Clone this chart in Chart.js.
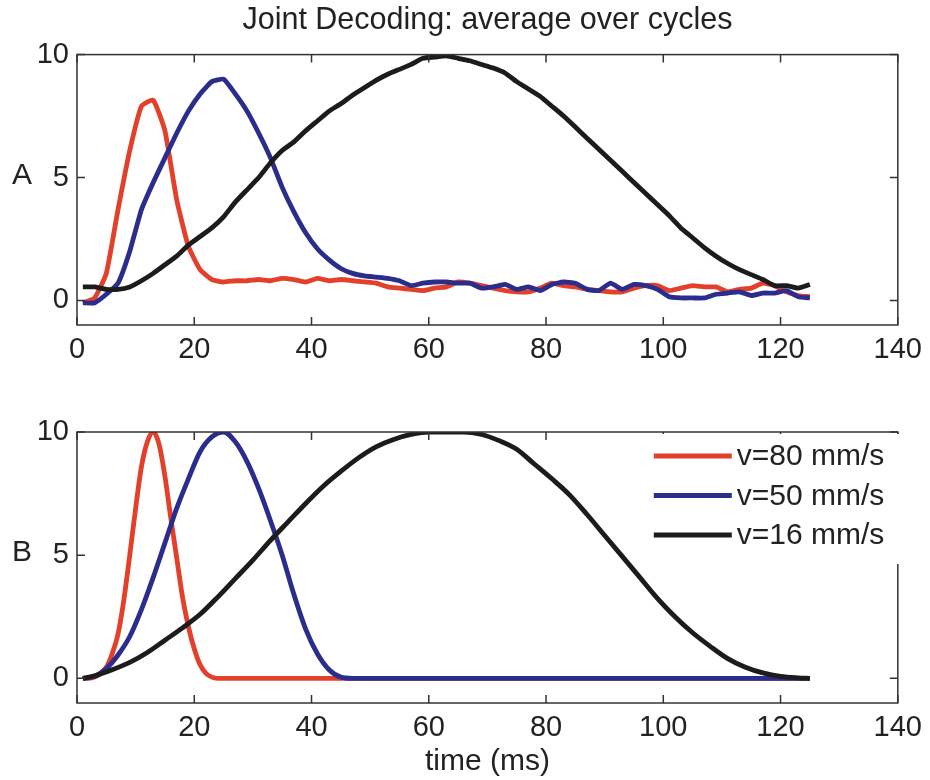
<!DOCTYPE html>
<html lang="en">
<head>
    <meta charset="UTF-8">
    <title>Joint Decoding: average over cycles</title>
    <script src="https://cdn.jsdelivr.net/npm/chart.js"></script>
    <style>
        body {
            margin: 0;
            background: #fff;
        }
        .wrap {
            position: relative;
            width: 930px;
            height: 780px;
        }
        #chartA {
            position: absolute;
            left: 0;
            top: 0;
        }
        #chartB {
            position: absolute;
            left: 0;
            top: 380px;
        }
    </style>
</head>
<body>
    <div class="wrap">
        <canvas id="chartA" width="930" height="380"></canvas>
        <canvas id="chartB" width="930" height="400"></canvas>
    </div>
    <script>
        // panel A: decoded (noisy) averages, sampled every 2 ms
        const tA = [1, 3, 5, 7, 9, 11, 13, 15, 17, 19,
            21, 23, 25, 27, 29, 31, 33, 35, 37, 39,
            41, 43, 45, 47, 49, 51, 53, 55, 57, 59,
            61, 63, 65, 67, 69, 71, 73, 75, 77, 79,
            81, 83, 85, 87, 89, 91, 93, 95, 97, 99,
            101, 103, 105, 107, 109, 111, 113, 115, 117, 119,
            121, 123, 125];
        const redA = [-0.1, 0.1, 1.1, 3.7, 6.1, 7.9, 8.15, 6.9, 4.1, 2.2,
            1.25, 0.85, 0.75, 0.8, 0.8, 0.85, 0.8, 0.9, 0.85, 0.75,
            0.9, 0.8, 0.85, 0.8, 0.75, 0.7, 0.55, 0.5, 0.45, 0.4,
            0.5, 0.55, 0.75, 0.7, 0.6, 0.5, 0.4, 0.35, 0.35, 0.5,
            0.7, 0.6, 0.55, 0.45, 0.4, 0.35, 0.35, 0.5, 0.6, 0.6,
            0.4, 0.5, 0.6, 0.55, 0.55, 0.35, 0.45, 0.5, 0.7, 0.6,
            0.35, 0.2, 0.15];
        const blueA = [-0.1, -0.1, 0.25, 0.7, 2.0, 3.7, 4.8, 5.8, 6.8, 7.7,
            8.4, 8.9, 9.0, 8.4, 7.7, 6.8, 5.8, 4.6, 3.6, 2.75,
            2.1, 1.65, 1.3, 1.1, 1.0, 0.95, 0.9, 0.8, 0.6, 0.7,
            0.75, 0.75, 0.7, 0.7, 0.5, 0.55, 0.65, 0.45, 0.55, 0.4,
            0.65, 0.75, 0.7, 0.45, 0.4, 0.7, 0.45, 0.65, 0.6, 0.45,
            0.15, 0.1, 0.1, 0.1, 0.25, 0.3, 0.35, 0.2, 0.3, 0.3,
            0.4, 0.15, 0.1];
        const blackA = [0.55, 0.55, 0.45, 0.45, 0.55, 0.8, 1.1, 1.45, 1.8, 2.25,
            2.6, 2.95, 3.4, 4.0, 4.5, 5.0, 5.6, 6.1, 6.45, 6.9,
            7.3, 7.7, 8.0, 8.35, 8.65, 8.95, 9.2, 9.4, 9.6, 9.85,
            9.9, 9.95, 9.85, 9.75, 9.6, 9.45, 9.25, 8.9, 8.6, 8.3,
            7.9, 7.5, 7.05, 6.6, 6.15, 5.7, 5.25, 4.8, 4.35, 3.9,
            3.45, 2.95, 2.55, 2.15, 1.8, 1.5, 1.25, 1.05, 0.85, 0.6,
            0.6, 0.5, 0.65];

        // panel B: ideal profiles
        const tRedB = [1, 2, 3, 4, 5, 6, 7, 8, 9, 10, 11, 12, 13, 14, 15, 16, 17, 18, 19, 20, 21, 22, 23, 24, 25, 125];
        const redB = [0, 0, 0.05, 0.2, 0.45, 1.0, 1.8, 3.2, 5.0, 6.9, 8.6, 9.6, 10, 9.5, 8.2, 6.5, 4.9, 3.3, 2.1, 1.2, 0.55, 0.2, 0.05, 0, 0, 0];
        const tBlueB = [1, 3, 5, 7, 9, 11, 13, 15, 17, 19, 21, 23, 25, 27, 29, 31, 33, 35, 37, 39, 41, 43, 45, 47, 125];
        const blueB = [0, 0.08, 0.4, 0.95, 1.7, 2.8, 4.1, 5.5, 6.9, 8.1, 9.2, 9.8, 10, 9.6, 8.8, 7.7, 6.4, 5.0, 3.4, 2.0, 1.0, 0.35, 0.05, 0, 0];
        const tBlackB = [1, 3, 6, 9, 12, 15, 18, 21, 24, 27, 30, 33, 36, 39, 42, 45, 48, 51, 54, 57, 60, 63,
            66, 69, 72, 75, 78, 81, 84, 87, 90, 93, 96, 99, 102, 105, 108, 111, 114, 117, 120, 123, 125];
        const blackB = [0, 0.1, 0.35, 0.65, 1.05, 1.55, 2.05, 2.6, 3.3, 4.05, 4.8, 5.6, 6.35, 7.1, 7.8, 8.4, 8.95, 9.4, 9.7, 9.9, 10, 10,
            10, 9.9, 9.65, 9.3, 8.7, 8.1, 7.45, 6.65, 5.8, 4.95, 4.1, 3.25, 2.5, 1.85, 1.3, 0.8, 0.45, 0.22, 0.08, 0.02, 0];

        const seriesLabels = ['v=80 mm/s', 'v=50 mm/s', 'v=16 mm/s'];
        const seriesColors = ['#e3402c', '#2b2d8c', '#1c1c1c'];
        const xTicks = [0, 20, 40, 60, 80, 100, 120, 140];
        const yTicks = [0, 5, 10];

        const FONT = "'Liberation Sans', Arial, sans-serif";
        const INK = '#222';

        function pts(xs, ys) {
            return xs.map((x, i) => ({ x: x, y: ys[i] }));
        }

        // box around the plot plus matlab-style inward ticks
        const boxPlugin = {
            id: 'matlabBox',
            afterDatasetsDraw(chart) {
                const { ctx, chartArea: a, scales } = chart;
                const len = 8;
                ctx.save();
                ctx.strokeStyle = '#333';
                ctx.lineWidth = 1.5;
                ctx.strokeRect(a.left, a.top, a.right - a.left, a.bottom - a.top);
                ctx.beginPath();
                scales.x.ticks.forEach(t => {
                    const px = scales.x.getPixelForValue(t.value);
                    ctx.moveTo(px, a.bottom); ctx.lineTo(px, a.bottom - len);
                    ctx.moveTo(px, a.top); ctx.lineTo(px, a.top + len);
                });
                scales.y.ticks.forEach(t => {
                    const py = scales.y.getPixelForValue(t.value);
                    ctx.moveTo(a.left, py); ctx.lineTo(a.left + len, py);
                    ctx.moveTo(a.right, py); ctx.lineTo(a.right - len, py);
                });
                ctx.stroke();
                ctx.restore();
            }
        };

        // panel letter (A / B) left of the y axis
        const panelPlugin = {
            id: 'panelLetter',
            afterDraw(chart, args, opts) {
                if (!opts.text) return;
                const { ctx, chartArea: a, scales } = chart;
                ctx.save();
                ctx.font = '30px ' + FONT;
                ctx.fillStyle = INK;
                ctx.textAlign = 'center';
                ctx.textBaseline = 'middle';
                ctx.fillText(opts.text, a.left - 55, scales.y.getPixelForValue(5) - 2);
                ctx.restore();
            }
        };

        // legend drawn inside the top right of panel B
        const legendPlugin = {
            id: 'insideLegend',
            afterDraw(chart, args, opts) {
                if (!opts.show) return;
                const { ctx, chartArea: a } = chart;
                const x0 = a.right - 244;
                ctx.save();
                ctx.fillStyle = '#fff';
                ctx.fillRect(x0 - 12, a.top + 2, a.right - x0 + 20, 130);
                ctx.font = '30px ' + FONT;
                ctx.textBaseline = 'middle';
                ctx.textAlign = 'left';
                chart.data.datasets.forEach((ds, i) => {
                    const y = a.top + 24 + i * 39.5;
                    ctx.strokeStyle = ds.borderColor;
                    ctx.lineWidth = 5;
                    ctx.beginPath();
                    ctx.moveTo(x0, y);
                    ctx.lineTo(x0 + 78, y);
                    ctx.stroke();
                    ctx.fillStyle = INK;
                    ctx.fillText(ds.label, x0 + 83, y + 1);
                });
                ctx.restore();
            }
        };

        function makeDatasets(red, blue, black, smooth) {
            const vals = [red, blue, black];
            return vals.map((d, i) => ({
                label: seriesLabels[i],
                data: d,
                borderColor: seriesColors[i],
                backgroundColor: seriesColors[i],
                borderWidth: 4.8,
                pointRadius: 0,
                tension: smooth ? 0 : 0.15,
                cubicInterpolationMode: smooth ? 'monotone' : 'default',
                order: 3 - i
            }));
        }

        function makeOptions(cfg) {
            return {
                responsive: false,
                animation: false,
                layout: { padding: { left: 0, right: 31, top: cfg.padTop, bottom: 0 } },
                plugins: {
                    legend: { display: false },
                    tooltip: { enabled: false },
                    title: cfg.title ? {
                        display: true,
                        fullSize: false,
                        text: cfg.title,
                        color: INK,
                        font: { family: FONT, size: 30.5, weight: 'normal' },
                        padding: { top: 2, bottom: 16 }
                    } : { display: false },
                    panelLetter: { text: cfg.letter },
                    insideLegend: { show: cfg.legend }
                },
                scales: {
                    x: {
                        type: 'linear',
                        min: 0,
                        max: 140,
                        afterBuildTicks: s => { s.ticks = xTicks.map(v => ({ value: v })); },
                        afterFit: s => { s.height = cfg.xHeight; },
                        ticks: {
                            color: INK,
                            font: { family: FONT, size: 29 },
                            padding: 8,
                            maxRotation: 0
                        },
                        grid: { drawOnChartArea: false, drawTicks: false },
                        border: { display: false },
                        title: cfg.xTitle ? {
                            display: true,
                            text: cfg.xTitle,
                            color: INK,
                            font: { family: FONT, size: 30 },
                            padding: { top: 0, bottom: 0 }
                        } : { display: false }
                    },
                    y: {
                        min: -1,
                        max: 10,
                        afterBuildTicks: s => { s.ticks = yTicks.map(v => ({ value: v })); },
                        afterFit: s => { s.width = 77; },
                        ticks: {
                            color: INK,
                            font: { family: FONT, size: 29 },
                            padding: 8
                        },
                        grid: { drawOnChartArea: false, drawTicks: false },
                        border: { display: false }
                    }
                }
            };
        }

        new Chart(document.getElementById('chartA'), {
            type: 'line',
            data: { datasets: makeDatasets(pts(tA, redA), pts(tA, blueA), pts(tA, blackA), false) },
            options: makeOptions({ padTop: 0, title: 'Joint Decoding: average over cycles', letter: 'A', legend: false, xHeight: 55 }),
            plugins: [boxPlugin, panelPlugin, legendPlugin]
        });

        new Chart(document.getElementById('chartB'), {
            type: 'line',
            data: { datasets: makeDatasets(pts(tRedB, redB), pts(tBlueB, blueB), pts(tBlackB, blackB), true) },
            options: makeOptions({ padTop: 52, title: null, letter: 'B', legend: true, xHeight: 77, xTitle: 'time (ms)' }),
            plugins: [boxPlugin, panelPlugin, legendPlugin]
        });
    </script>
</body>
</html>
